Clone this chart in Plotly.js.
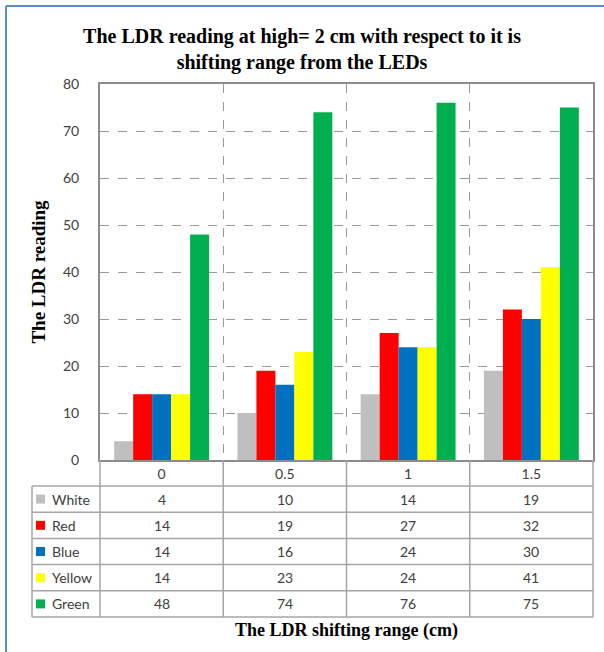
<!DOCTYPE html>
<html>
<head>
<meta charset="utf-8">
<script src="https://cdn.plot.ly/plotly-3.0.1.min.js"></script>
<style>html,body{margin:0;padding:0;background:#fff;}#chart{width:604px;height:652px;}</style>
</head>
<body>
<div id="chart"></div>
<script>
// ---- data ----
const categories = ['0', '0.5', '1', '1.5'];
const seriesNames = ['White', 'Red', 'Blue', 'Yellow', 'Green'];
const white = [4, 10, 14, 19];
const red = [14, 19, 27, 32];
const blue = [14, 16, 24, 30];
const yellow = [14, 23, 24, 41];
const green = [48, 74, 76, 75];
const seriesValues = [white, red, blue, yellow, green];
const seriesColors = ['#BFBFBF', '#FF0000', '#0070C0', '#FFFF00', '#00B050'];

// ---- geometry (pixels) ----
const W = 604, H = 652;
const L = 100, R = 593, T = 84, B = 460;
const pw = R - L, ph = B - T;
const px2x = p => (p - L) / pw;
const py2y = p => (B - p) / ph;

const tableLeft = 32;
const headerBottom = 486;
const rowH = 26.2;
const colEdges = [100, 223.25, 346.5, 469.75, 593];
const gridCol = '#A6A6A6';
const tickFont = {family: 'Lato, "Open Sans", sans-serif', size: 14, color: '#404040'};
const serif = '"Liberation Serif", "Times New Roman", serif';

const traces = seriesNames.map((n, i) => ({
  type: 'bar', name: n, x: categories, y: seriesValues[i],
  marker: {color: seriesColors[i], line: {width: 0}}, showlegend: false, hoverinfo: 'y'
}));

const shapes = [];
const annotations = [];

// outer blue frame (only left and top visible)
shapes.push({type: 'line', xref: 'paper', yref: 'paper', x0: px2x(6), x1: px2x(6), y0: py2y(6), y1: py2y(660), line: {color: '#5B8BD0', width: 2}});
shapes.push({type: 'line', xref: 'paper', yref: 'paper', x0: px2x(6), x1: px2x(610), y0: py2y(6), y1: py2y(6), line: {color: '#5B8BD0', width: 2}});

// table vertical lines
colEdges.forEach(cx => {
  shapes.push({type: 'line', xref: 'paper', yref: 'paper', x0: px2x(cx), x1: px2x(cx), y0: py2y(B), y1: py2y(headerBottom + rowH * seriesNames.length), line: {color: gridCol, width: 1.5}});
});
shapes.push({type: 'line', xref: 'paper', yref: 'paper', x0: px2x(tableLeft), x1: px2x(tableLeft), y0: py2y(headerBottom), y1: py2y(headerBottom + rowH * seriesNames.length), line: {color: gridCol, width: 1.5}});
// table horizontal lines
for (let r = 0; r <= seriesNames.length; r++) {
  const yy = headerBottom + rowH * r;
  shapes.push({type: 'line', xref: 'paper', yref: 'paper', x0: px2x(tableLeft), x1: px2x(R), y0: py2y(yy), y1: py2y(yy), line: {color: gridCol, width: 1.5}});
}

// table rows
seriesNames.forEach((n, r) => {
  const cy = headerBottom + rowH * r + rowH / 2;
  shapes.push({type: 'rect', xref: 'paper', yref: 'paper', x0: px2x(36), x1: px2x(45), y0: py2y(cy - 4.5), y1: py2y(cy + 4.5), fillcolor: seriesColors[r], line: {width: 0}});
  annotations.push({xref: 'paper', yref: 'paper', x: px2x(50), y: py2y(cy), xanchor: 'left', yanchor: 'middle', text: n, showarrow: false, font: tickFont});
  seriesValues[r].forEach((v, c) => {
    annotations.push({xref: 'paper', yref: 'paper', x: px2x((colEdges[c] + colEdges[c + 1]) / 2), y: py2y(cy), xanchor: 'center', yanchor: 'middle', text: String(v), showarrow: false, font: tickFont});
  });
});

const layout = {
  width: W, height: H,
  margin: {l: L, r: W - R, t: T, b: H - B, pad: 0},
  paper_bgcolor: '#fff', plot_bgcolor: '#fff',
  barmode: 'group', bargap: 0.23, bargroupgap: 0,
  title: {
    text: '<b>The LDR reading at high= 2 cm with respect to it is<br>shifting range from the LEDs</b>',
    font: {family: serif, size: 20, color: '#000'},
    x: 0.5, xref: 'container', xanchor: 'center', y: 1 - 43 / H, yref: 'container', yanchor: 'middle'
  },
  xaxis: {
    type: 'category', tickson: 'boundaries', ticks: '',
    showgrid: true, gridcolor: '#9A9A9A', griddash: 'dash', gridwidth: 1,
    showline: true, mirror: true, linecolor: '#8C8C8C', linewidth: 2,
    tickfont: tickFont, automargin: false,
    title: {text: '<b>The LDR shifting range (cm)</b>', font: {family: serif, size: 18, color: '#000'}, standoff: 143}
  },
  yaxis: {
    range: [0, 80], dtick: 10, ticks: '', ticklabelstandoff: 16,
    showgrid: true, gridcolor: '#9A9A9A', griddash: 'dash', gridwidth: 1,
    zeroline: false,
    showline: true, mirror: true, linecolor: '#8C8C8C', linewidth: 2,
    tickfont: tickFont, automargin: false,
    title: {text: '<b>The LDR reading</b>', font: {family: serif, size: 19, color: '#000'}, standoff: 12}
  },
  shapes: shapes,
  annotations: annotations
};

Plotly.newPlot('chart', traces, layout, {displayModeBar: false, staticPlot: true});
</script>
</body>
</html>
